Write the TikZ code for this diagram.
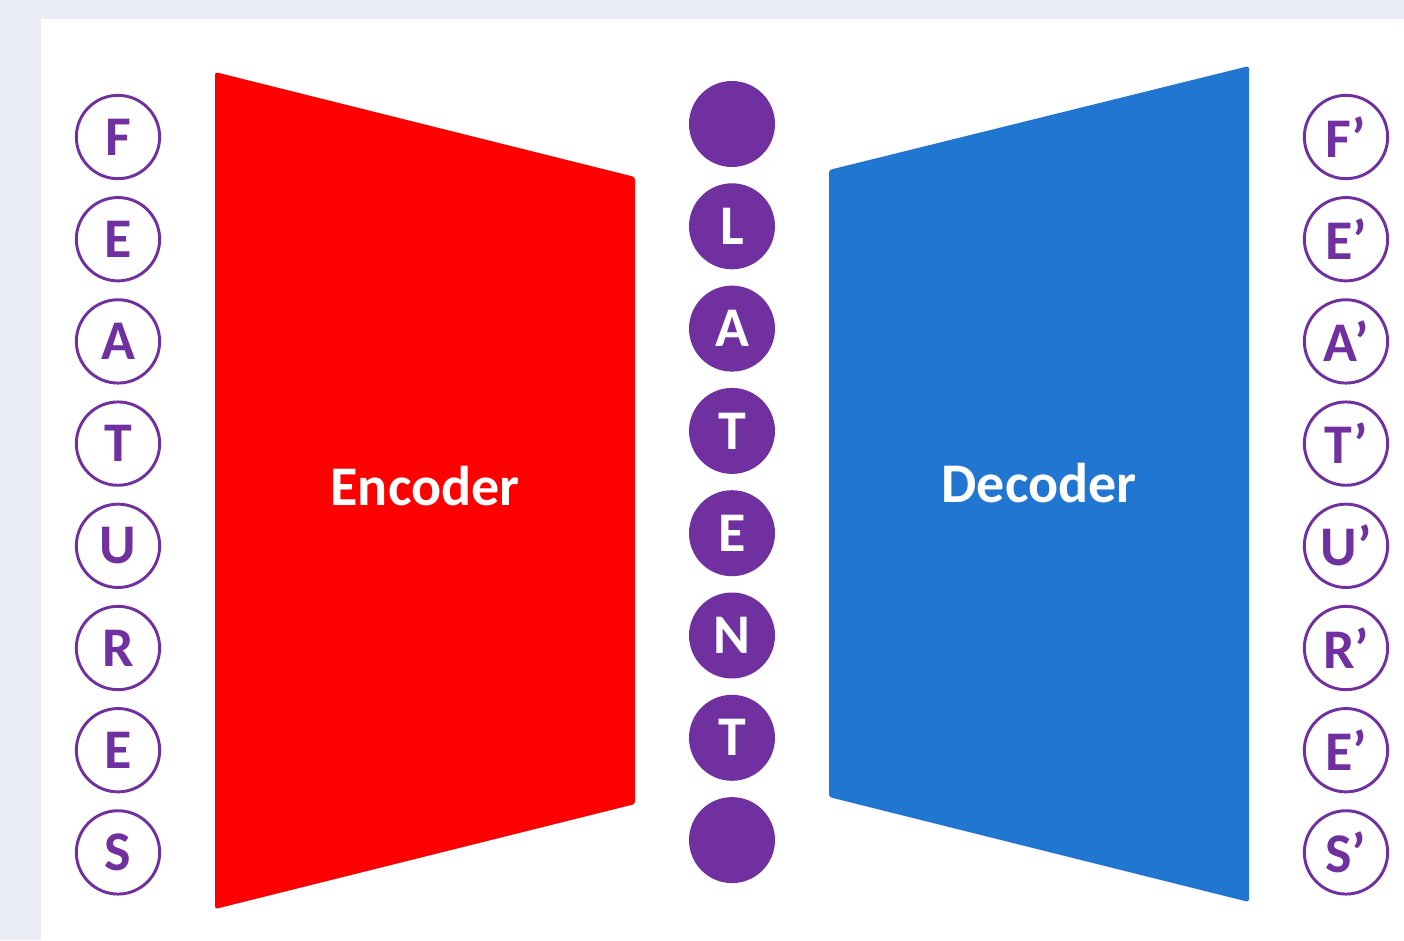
\documentclass[tikz,border=0pt]{standalone}
\usepackage{fontspec}
\setmainfont{Carlito}
\definecolor{pagebg}{HTML}{EAEDF6}
\definecolor{latentpurple}{HTML}{7030A0}
\definecolor{encred}{HTML}{FF0000}
\definecolor{decblue}{HTML}{2176D2}
\tikzset{
  px/.style={x=0.75pt,y=-0.75pt},
  feat/.style={circle,draw=latentpurple,line width=2.2pt,fill=white,
    minimum size=62.5pt,inner sep=0pt,text=latentpurple,
    font=\fontsize{42}{42}\selectfont\bfseries},
  lat/.style={circle,fill=latentpurple,minimum size=64.5pt,inner sep=0pt,
    text=white,font=\fontsize{42}{42}\selectfont\bfseries},
  block/.style={rounded corners=2pt},
  blocklabel/.style={text=white,font=\fontsize{42}{42}\selectfont\bfseries}
}
\begin{document}
\begin{tikzpicture}[px]
  % page background and white panel
  \fill[pagebg] (0,0) rectangle (1404,940);
  \fill[white] (41,19) rectangle (1404,940);
  \useasboundingbox (0,0) rectangle (1404,940);

  % encoder and decoder blocks
  \fill[encred,block] (215,72) -- (635,177) -- (635,804) -- (215,909) -- cycle;
  \fill[decblue,block] (829,170) -- (1249,66) -- (1249,902) -- (829,797) -- cycle;
  \node[blocklabel] (enc) at (425,486) {Encoder};
  \node[blocklabel] (dec) at (1039,483) {Decoder};

  % input features
  \foreach \c [count=\i from 0] in {F,E,A,T,U,R,E,S} {
    \node[feat] (in\i) at (118,137+102.2*\i) {\c};
  }
  % latent code
  \foreach \c [count=\i from 0] in {{},L,A,T,E,N,T,{}} {
    \node[lat] (z\i) at (732,124+102.3*\i) {\c};
  }
  % reconstructed features
  \foreach \c [count=\i from 0] in {F,E,A,T,U,R,E,S} {
    \node[feat] (out\i) at (1346,137+102.2*\i) {\c’};
  }
\end{tikzpicture}
\end{document}
